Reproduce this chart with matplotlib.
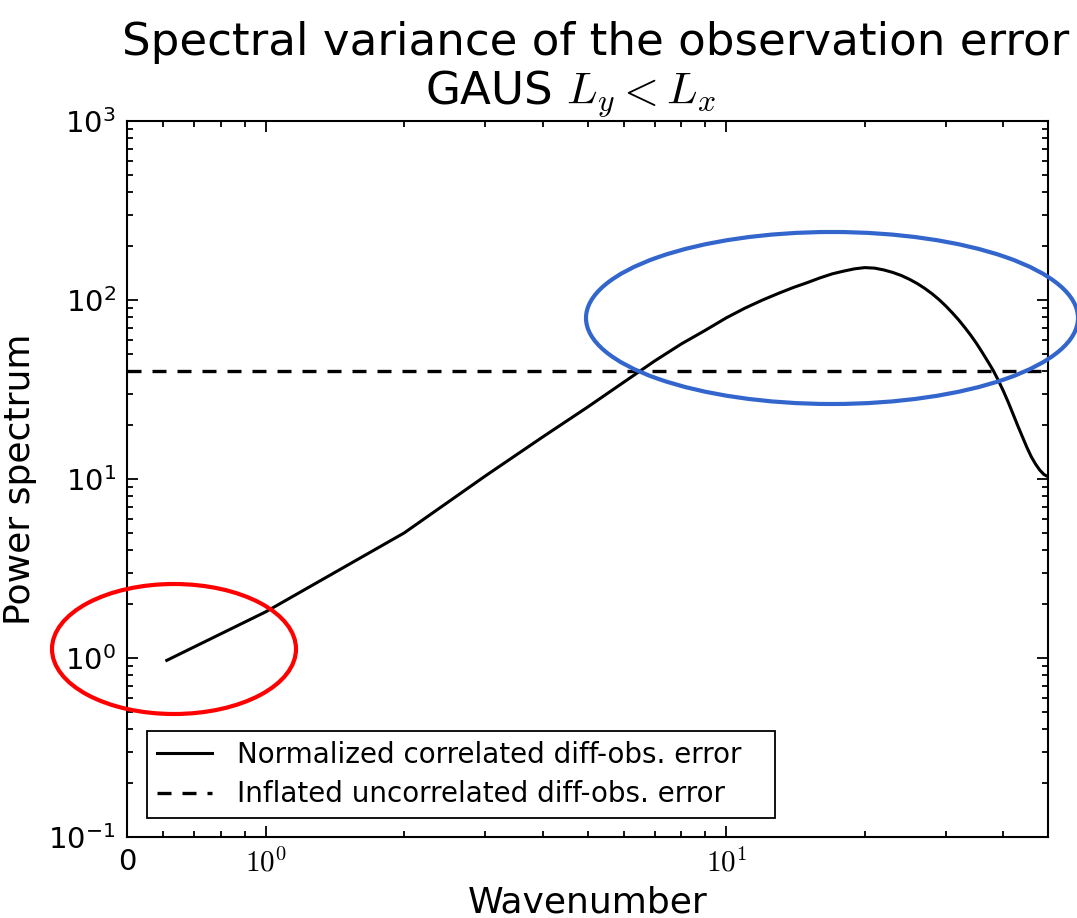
import matplotlib
matplotlib.use("Agg")
import matplotlib.pyplot as plt
import numpy as np
from matplotlib.patches import Ellipse
from matplotlib.ticker import LogLocator, NullFormatter, FixedLocator, FixedFormatter

plt.rcParams['mathtext.fontset'] = 'cm'

# spectrum of the correlated diff-obs. error, normalized
wavenumber = [0.61, 1, 2, 3, 4, 5, 6, 7, 8, 9, 10, 11, 12, 13, 14, 15, 16, 17,
              18, 19, 20, 21, 22, 23, 24, 25, 26, 27, 28, 29, 30, 31, 32, 33,
              34, 35, 36, 37, 38, 39, 40, 41, 42, 43, 44, 45, 46, 47, 48, 49, 50]
power_corr = [0.97, 1.81, 5.0, 10.4, 17.2, 25.2, 34.8, 45.7, 56.9, 67.6, 79.4,
              90.2, 100, 109, 117.5, 125, 133, 140, 145, 149.3, 151.7, 150.7,
              147.2, 142.6, 137.1, 130.6, 123.6, 116.1, 108.4, 100.5, 92.5,
              84.7, 77.3, 70.1, 63.4, 57.0, 50.9, 45.4, 40.5, 35.6, 31.0, 26.8,
              23.0, 19.8, 17.2, 15.0, 13.3, 12.1, 11.2, 10.6, 10.3]
# inflated uncorrelated error: flat spectrum
power_uncorr = 40.0

labels = ['Normalized correlated diff-obs. error',
          'Inflated uncorrelated diff-obs. error']
xtick_pos = [0.5, 1, 10]
xtick_lab = ['0', r'$10^0$', r'$10^1$']

W, H = 1077, 918
fig = plt.figure(figsize=(W / 100, H / 100), dpi=100)
ax = fig.add_axes([127 / W, 1 - 837 / H, (1048 - 127) / W, (837 - 121) / H])

ax.plot(wavenumber, power_corr, color='k', lw=2.2, label=labels[0])
ax.axhline(power_uncorr, color='k', lw=2.4, dashes=(4.2, 3.3), label=labels[1])

ax.set_xscale('log')
ax.set_yscale('log')
ax.set_xlim(0.5, 50)
ax.set_ylim(0.1, 1000)

ax.xaxis.set_major_locator(FixedLocator(xtick_pos))
ax.xaxis.set_major_formatter(FixedFormatter(xtick_lab))
ax.xaxis.set_minor_locator(LogLocator(base=10, subs=np.arange(2, 10)))
ax.xaxis.set_minor_formatter(NullFormatter())
ax.yaxis.set_minor_locator(LogLocator(base=10, subs=np.arange(2, 10)))
ax.yaxis.set_minor_formatter(NullFormatter())

ax.tick_params(which='both', direction='in', top=True, right=True, width=1.3,
               labelsize=21, pad=8)
ax.tick_params(which='major', length=8)
ax.tick_params(which='minor', length=4)
for s in ax.spines.values():
    s.set_linewidth(1.5)

# two-line title, each line placed on its own baseline
fig.text(596 / W, 1 - 55 / H, "Spectral variance of the observation error",
         fontsize=32.5, ha='center', va='baseline')
fig.text(571 / W, 1 - 103 / H, "GAUS $L_y < L_x$",
         fontsize=32.5, ha='center', va='baseline')
ax.set_ylabel('Power spectrum', fontsize=26, labelpad=8)
ax.set_xlabel('Wavenumber', fontsize=26, labelpad=6)

leg = ax.legend(loc='lower left', bbox_to_anchor=(0.0217, 0.0265, 0.682, 0.1),
                mode='expand', borderaxespad=0, fontsize=20, fancybox=False,
                edgecolor='k', framealpha=1, handlelength=2.0,
                handletextpad=0.9, labelspacing=0.4, borderpad=0.35)
leg.get_frame().set_linewidth(1.3)

# highlight regions
fig.patches.append(Ellipse((174 / W, 1 - 649 / H), 244 / W, 130 / H,
                           transform=fig.transFigure, fill=False,
                           edgecolor='#FF0000', lw=3))
fig.patches.append(Ellipse((832 / W, 1 - 318 / H), 492 / W, 172 / H,
                           transform=fig.transFigure, fill=False,
                           edgecolor='#3366CC', lw=3))

fig.savefig('out.png', dpi=100)
